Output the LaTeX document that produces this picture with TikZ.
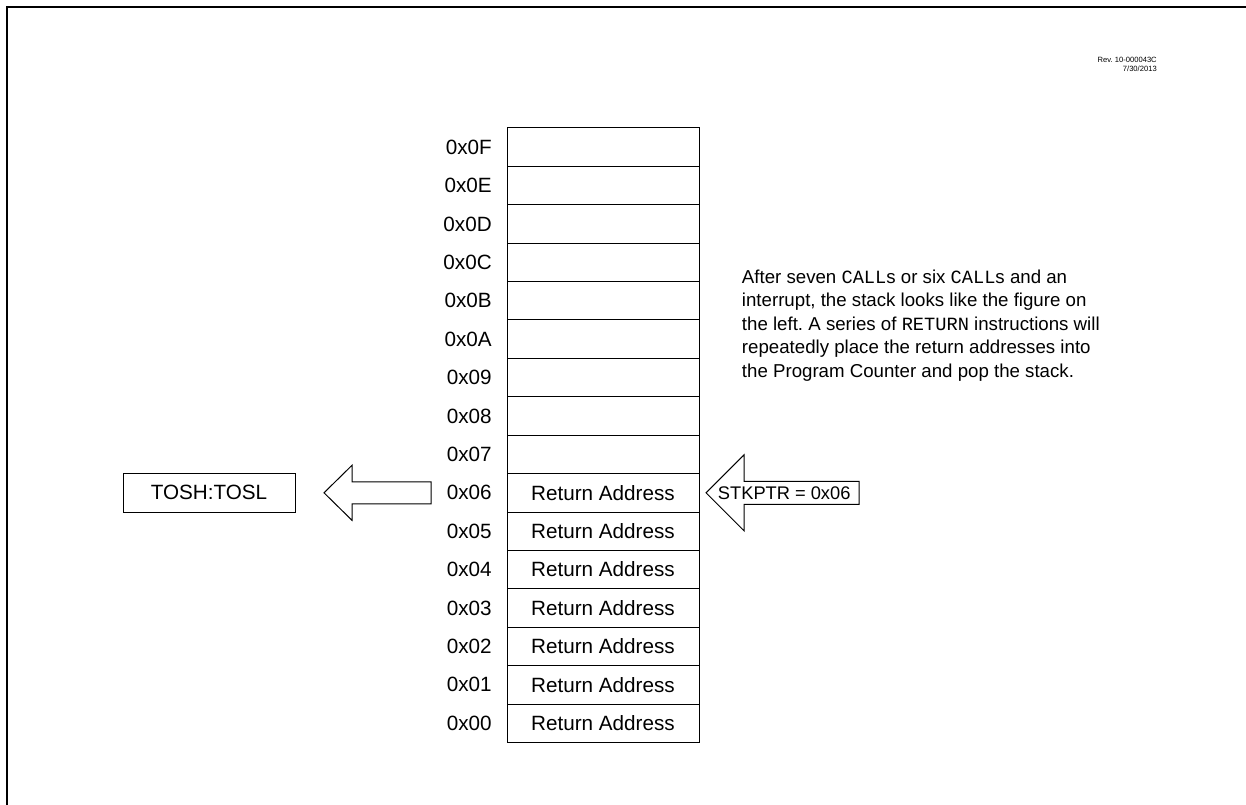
\documentclass[tikz,border=0pt]{standalone}
\usepackage{fontspec}
\setmainfont{Liberation Sans}
\setmonofont{Liberation Mono}
\frenchspacing
\begin{document}
\begin{tikzpicture}[x=0.75pt,y=-0.75pt]
\tikzset{
  cell/.style={draw, line width=0.75pt, minimum width=144pt, minimum height=28.8pt,
    inner sep=0pt, outer sep=0pt, font=\fontsize{15.5}{18}\selectfont},
  addr/.style={anchor=east, inner sep=0pt, font=\fontsize{15.5}{18}\selectfont},
  blockarrow/.style={draw, line width=0.75pt, fill=white, line join=miter},
  frame/.style={line width=1.5pt},
}
\useasboundingbox (0,0) rectangle (1246,805);
% partial frame
\draw[frame] (7,805) -- (7,7) -- (1246,7);
% revision
\node[anchor=north east, inner sep=0pt, align=right,
  font=\fontsize{5.7}{6.9}\selectfont] (rev) at (1157,57) {Rev. 10-000043C\\7/30/2013};
% stack
\foreach \i/\a/\t in {0/0F/,1/0E/,2/0D/,3/0C/,4/0B/,5/0A/,6/09/,7/08/,8/07/,
  9/06/Return Address,10/05/Return Address,11/04/Return Address,12/03/Return Address,
  13/02/Return Address,14/01/Return Address,15/00/Return Address}{
  \node[cell] (c\a) at (603,147.2+38.4*\i) {\t};
  \node[addr] (l\a) at (492,147.2+38.4*\i) {0x\a};
}
% TOSH:TOSL
\node[cell, minimum width=129pt] (tos) at (209,492.8) {TOSH:TOSL};
% left block arrow (from stack entry to TOSH:TOSL)
\coordinate (ltip) at (324,492.8);
\draw[blockarrow] (ltip) -- ++(28,-27.5) -- ++(0,16.5) -- ++(79,0) -- ++(0,22)
  -- ++(-79,0) -- ++(0,16.5) -- cycle;
% right block arrow (stack pointer)
\coordinate (rtip) at (706,492.8);
\draw[blockarrow] (rtip) -- ++(38,-38) -- ++(0,26.5) -- ++(115,0) -- ++(0,23)
  -- ++(-115,0) -- ++(0,26.5) -- cycle;
\node[anchor=west, inner sep=0pt, font=\fontsize{13.7}{16}\selectfont] (sp)
  at (717.7,492.8) {STKPTR = 0x06};
% description
\node[anchor=north west, inner sep=0pt, align=left,
  font=\fontsize{14}{17.6}\selectfont] (desc) at (741.7,269.7) {%
After seven \texttt{CALL}s or six \texttt{CALL}s and an\\
interrupt, the stack looks like the figure on\\
the left. A series of \texttt{RETURN} instructions will\\
repeatedly place the return addresses into\\
the Program Counter and pop the stack.};
\end{tikzpicture}
\end{document}
